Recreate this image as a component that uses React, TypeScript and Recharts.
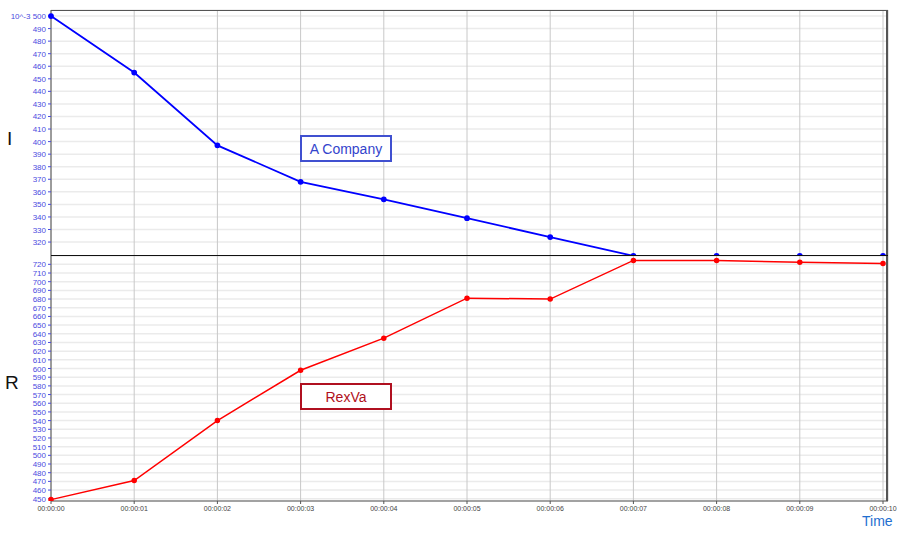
import React from "react";
import {
  LineChart,
  Line,
  XAxis,
  YAxis,
  CartesianGrid,
} from "recharts";

const times = [
  "00:00:00",
  "00:00:01",
  "00:00:02",
  "00:00:03",
  "00:00:04",
  "00:00:05",
  "00:00:06",
  "00:00:07",
  "00:00:08",
  "00:00:09",
  "00:00:10",
];

// A Company (I)
const iValues = [500, 455, 397, 368, 354, 339, 324, 309, 309, 309, 309];
// RexVa (R)
const rValues = [449, 471, 540, 598, 635, 681, 680, 724.5, 724.5, 722.5, 721];

const iTicks = [320, 330, 340, 350, 360, 370, 380, 390, 400, 410, 420, 430, 440, 450, 460, 470, 480, 490, 500];
const rTicks = [
  450, 460, 470, 480, 490, 500, 510, 520, 530, 540, 550, 560, 570, 580, 590, 600,
  610, 620, 630, 640, 650, 660, 670, 680, 690, 700, 710, 720,
];

const data = times.map((t, i) => ({ t, i: iValues[i], r: rValues[i] }));

const FONT = "'Liberation Sans', Arial, sans-serif";
const TICK_BLUE = "#4a4ae0";

const LEFT = 51;
const RIGHT = 888;
const TOP = 10;
const MID = 256;
const BOTTOM = 501;

// y tick drawn as one text so the long "10^-3 500" label does not wrap
const YTick = (props: any) => {
  const { x, y, payload, scaleTop } = props;
  const v = payload.value;
  return (
    <text
      x={x}
      y={y}
      dy={3}
      textAnchor="end"
      fill={TICK_BLUE}
      fontSize={8}
      fontFamily={FONT}
    >
      {scaleTop && v === 500 ? "10^-3 500" : String(v)}
    </text>
  );
};

export default function App() {
  return (
    <div
      style={{
        position: "absolute",
        left: 0,
        top: 0,
        width: 900,
        height: 537,
        background: "#fff",
        fontFamily: FONT,
        overflow: "hidden",
      }}
    >
      <div style={{ position: "absolute", left: 0, top: 0 }}>
        <LineChart
          width={900}
          height={MID}
          data={data}
          margin={{ top: TOP, right: 900 - RIGHT, bottom: 0, left: 0 }}
        >
          <CartesianGrid vertical={false} stroke="#ebebeb" strokeWidth={1.5} />
          <CartesianGrid horizontal={false} stroke="#c8c8c8" strokeWidth={1} />
          <XAxis dataKey="t" hide padding={{ left: 0, right: 5 }} />
          <YAxis
            width={LEFT}
            domain={[308.9, 504.8]}
            ticks={iTicks}
            interval={0}
            allowDataOverflow
            tickSize={3}
            tickLine={{ stroke: TICK_BLUE }}
            axisLine={{ stroke: "#555" }}
            tick={(p: any) => <YTick {...p} scaleTop />}
          />
          <Line
            dataKey="i"
            stroke="#0000ff"
            strokeWidth={1.8}
            dot={{ r: 2, fill: "#0000ff", stroke: "#0000ff" }}
            isAnimationActive={false}
          />
        </LineChart>
      </div>
      <div style={{ position: "absolute", left: 0, top: MID }}>
        <LineChart
          width={900}
          height={537 - MID}
          data={data}
          margin={{ top: 0, right: 900 - RIGHT, bottom: 0, left: 0 }}
        >
          <CartesianGrid vertical={false} stroke="#ebebeb" strokeWidth={1.5} />
          <CartesianGrid horizontal={false} stroke="#c8c8c8" strokeWidth={1} />
          <XAxis
            dataKey="t"
            height={537 - BOTTOM}
            padding={{ left: 0, right: 5 }}
            interval={0}
            tickSize={3}
            tickLine={{ stroke: "#555" }}
            axisLine={{ stroke: "#555" }}
            tick={{ fill: "#444", fontSize: 7, fontFamily: FONT }}
          />
          <YAxis
            width={LEFT}
            domain={[447.4, 729.6]}
            ticks={rTicks}
            interval={0}
            allowDataOverflow
            tickSize={3}
            tickLine={{ stroke: TICK_BLUE }}
            axisLine={{ stroke: "#555" }}
            tick={(p: any) => <YTick {...p} />}
          />
          <Line
            dataKey="r"
            stroke="#ff0000"
            strokeWidth={1.5}
            dot={{ r: 2, fill: "#ff0000", stroke: "#ff0000" }}
            isAnimationActive={false}
          />
        </LineChart>
      </div>

      {/* frame and divider */}
      <div
        style={{
          position: "absolute",
          left: LEFT,
          top: TOP,
          width: RIGHT - LEFT,
          height: BOTTOM - TOP,
          borderTop: "1px solid #555",
          borderRight: "2px solid #555",
          boxSizing: "border-box",
          pointerEvents: "none",
        }}
      />
      <div
        style={{
          position: "absolute",
          left: LEFT,
          top: MID - 1,
          width: RIGHT - LEFT,
          height: 0,
          borderTop: "1.5px solid #111",
          pointerEvents: "none",
        }}
      />

      {/* axis labels */}
      <div style={{ position: "absolute", left: 7, top: 128, fontSize: 19, color: "#111" }}>I</div>
      <div style={{ position: "absolute", left: 5, top: 372, fontSize: 19, color: "#111" }}>R</div>
      <div style={{ position: "absolute", left: 862, top: 513, fontSize: 14, color: "#1f6fd0" }}>Time</div>

      {/* annotation boxes */}
      <div
        style={{
          position: "absolute",
          left: 300,
          top: 135,
          width: 92,
          height: 27,
          border: "2px solid #4050d0",
          boxSizing: "border-box",
          background: "#fff",
          color: "#3344cc",
          fontSize: 14,
          display: "flex",
          alignItems: "center",
          justifyContent: "center",
        }}
      >
        A Company
      </div>
      <div
        style={{
          position: "absolute",
          left: 300,
          top: 383,
          width: 92,
          height: 27,
          border: "2px solid #b01020",
          boxSizing: "border-box",
          background: "#fff",
          color: "#b01020",
          fontSize: 14,
          display: "flex",
          alignItems: "center",
          justifyContent: "center",
        }}
      >
        RexVa
      </div>
    </div>
  );
}
